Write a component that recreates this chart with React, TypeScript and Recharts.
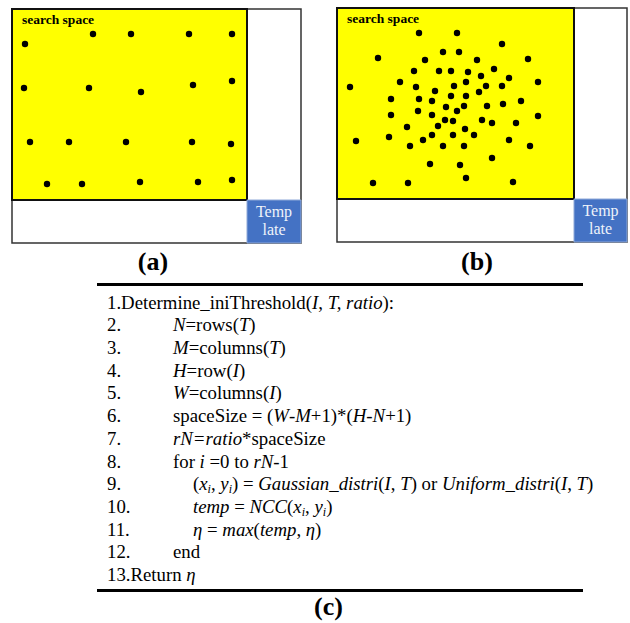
import React from "react";
import { ScatterChart, Scatter, XAxis, YAxis, ReferenceArea } from "recharts";

// dot positions inside each panel, in px from the top-left of the panel frame
const uniformPoints = [
  { x: 13, y: 35 }, { x: 81, y: 25 }, { x: 119, y: 25 }, { x: 177, y: 25 }, { x: 220, y: 25 },
  { x: 12, y: 79 }, { x: 77, y: 79 }, { x: 129, y: 83 }, { x: 181, y: 76 }, { x: 220, y: 72 },
  { x: 18, y: 133 }, { x: 57, y: 133 }, { x: 114, y: 133 }, { x: 180, y: 133 }, { x: 219, y: 135 },
  { x: 35, y: 175 }, { x: 70, y: 175 }, { x: 128, y: 173 }, { x: 186, y: 173 }, { x: 220, y: 171 },
];

const gaussianPoints = [
  { x: 82, y: 25 }, { x: 120, y: 25 }, { x: 165, y: 36 }, { x: 41, y: 50 }, { x: 106, y: 44 },
  { x: 122, y: 44 }, { x: 88, y: 52 }, { x: 140, y: 52 }, { x: 191, y: 51 }, { x: 77, y: 63 },
  { x: 102, y: 63 }, { x: 114, y: 63 }, { x: 131, y: 64 }, { x: 157, y: 61 }, { x: 13, y: 79 },
  { x: 63, y: 74 }, { x: 79, y: 79 }, { x: 98, y: 83 }, { x: 117, y: 78 }, { x: 129, y: 74 },
  { x: 144, y: 68 }, { x: 149, y: 78 }, { x: 165, y: 78 }, { x: 172, y: 70 }, { x: 201, y: 74 },
  { x: 54, y: 91 }, { x: 82, y: 91 }, { x: 95, y: 93 }, { x: 114, y: 88 }, { x: 129, y: 88 },
  { x: 142, y: 84 }, { x: 184, y: 93 }, { x: 109, y: 99 }, { x: 120, y: 103 }, { x: 127, y: 98 },
  { x: 150, y: 98 }, { x: 166, y: 96 }, { x: 54, y: 107 }, { x: 81, y: 103 }, { x: 95, y: 107 },
  { x: 201, y: 108 }, { x: 70, y: 119 }, { x: 101, y: 118 }, { x: 108, y: 112 }, { x: 116, y: 113 },
  { x: 145, y: 112 }, { x: 155, y: 115 }, { x: 179, y: 115 }, { x: 19, y: 133 }, { x: 52, y: 129 },
  { x: 73, y: 138 }, { x: 86, y: 132 }, { x: 95, y: 127 }, { x: 106, y: 138 }, { x: 116, y: 127 },
  { x: 128, y: 121 }, { x: 127, y: 138 }, { x: 137, y: 127 }, { x: 172, y: 132 }, { x: 193, y: 138 },
  { x: 93, y: 156 }, { x: 123, y: 157 }, { x: 155, y: 150 }, { x: 36, y: 175 }, { x: 71, y: 175 },
  { x: 129, y: 170 }, { x: 176, y: 174 },
];

const panelLabels = ["(a)", "(b)", "(c)"];

// |...| = italic, ~...~ = italic subscript
const algoNumbers = ["1.", "2.", "3.", "4.", "5.", "6.", "7.", "8.", "9.", "10.", "11.", "12.", "13."];
const algoIndent = [0, 1, 1, 1, 1, 1, 1, 1, 2, 2, 2, 1, 0];
const algoText = [
  "Determine_iniThreshold(|I|, |T, ratio|):",
  "|N|=rows(|T|)",
  "|M|=columns(|T|)",
  "|H|=row(|I|)",
  "|W|=columns(|I|)",
  "spaceSize = (|W|-|M|+1)*(|H|-|N|+1)",
  "|rN=ratio|*spaceSize",
  "for |i| =0 to |rN|-1",
  "(|x|~i~, |y|~i~) = |Gaussian_distri|(|I|, |T|) or |Uniform_distri|(|I|, |T|)",
  "|temp| = |NCC|(|x|~i~, |y|~i~)",
  "|η| = |max|(|temp|, |η|)",
  "end",
  "Return |η|",
];

const SERIF = '"Liberation Serif", "Times New Roman", serif';
const PAD = 3;

const Dot = (props: any) => {
  if (props.cx == null || props.cy == null) return null;
  return <circle cx={props.cx} cy={props.cy} r={3.2} fill="#000" />;
};

function SearchPanel({ left, top, w, h, sw, sh, points }: any) {
  return (
    <div style={{ position: "absolute", left: left - PAD, top: top - PAD }}>
      <ScatterChart
        width={w + PAD * 2}
        height={h + PAD * 2}
        margin={{ top: PAD, right: PAD, bottom: PAD, left: PAD }}
      >
        <XAxis type="number" dataKey="x" domain={[0, w]} hide allowDataOverflow />
        <YAxis type="number" dataKey="y" domain={[0, h]} reversed hide allowDataOverflow />
        <ReferenceArea x1={0} x2={w} y1={0} y2={h} fill="#fff" fillOpacity={1} stroke="#333" strokeWidth={1.5} />
        <ReferenceArea
          x1={0}
          x2={sw}
          y1={0}
          y2={sh}
          fill="#ffff00"
          fillOpacity={1}
          stroke="#111"
          strokeWidth={2}
          label={(p: any) => (
            <text x={p.viewBox.x + 10} y={p.viewBox.y + 15} fontFamily={SERIF} fontWeight="bold" fontSize={13.5} fill="#000">
              search space
            </text>
          )}
        />
        <ReferenceArea
          x1={sw}
          x2={w}
          y1={sh}
          y2={h}
          fill="#4472c4"
          fillOpacity={1}
          stroke="#8fa9d8"
          strokeWidth={1}
          label={(p: any) => {
            const cx = p.viewBox.x + p.viewBox.width / 2;
            const y0 = p.viewBox.y;
            return (
              <g fontFamily={SERIF} fontSize={16} fill="#eef2fa" textAnchor="middle">
                <text x={cx} y={y0 + 17}>Temp</text>
                <text x={cx} y={y0 + 35}>late</text>
              </g>
            );
          }}
        />
        <Scatter data={points} shape={Dot} isAnimationActive={false} />
      </ScatterChart>
    </div>
  );
}

function renderLine(src: string) {
  const parts = src.split(/(\|[^|]*\||~[^~]*~)/).filter((s) => s !== "");
  return parts.map((s, i) => {
    if (s.startsWith("|")) return <i key={i}>{s.slice(1, -1)}</i>;
    if (s.startsWith("~"))
      return (
        <sub key={i} style={{ fontStyle: "italic", fontSize: 12, verticalAlign: "-3px", lineHeight: 0 }}>
          {s.slice(1, -1)}
        </sub>
      );
    return <span key={i}>{s}</span>;
  });
}

const LINE_H = 22.7;

export default function App() {
  const caption = (text: string, cx: number, cy: number) => (
    <div
      style={{
        position: "absolute",
        left: cx - 40,
        top: cy - 15,
        width: 80,
        height: 30,
        lineHeight: "30px",
        textAlign: "center",
        fontFamily: SERIF,
        fontWeight: "bold",
        fontSize: 26,
      }}
    >
      {text}
    </div>
  );

  return (
    <div style={{ position: "absolute", left: 0, top: 0, width: 630, height: 623, background: "#fff", fontFamily: SERIF }}>
      <SearchPanel left={12} top={9} w={289} h={234} sw={235} sh={191} points={uniformPoints} />
      <SearchPanel left={337} top={8} w={290} h={234} sw={237} sh={191} points={gaussianPoints} />
      {caption(panelLabels[0], 153, 262)}
      {caption(panelLabels[1], 477, 262)}

      <div style={{ position: "absolute", left: 97, top: 283, width: 486, height: 2.5, background: "#000" }} />
      {algoText.map((t, i) => {
        const top = 303 - LINE_H / 2 + i * LINE_H;
        const inline = algoIndent[i] === 0;
        return (
          <div
            key={i}
            style={{ position: "absolute", top, left: 107, height: LINE_H, lineHeight: `${LINE_H}px`, fontSize: 18.8, whiteSpace: "nowrap" }}
          >
            {inline ? (
              <span>
                {algoNumbers[i]}
                {renderLine(t)}
              </span>
            ) : (
              <>
                <span>{algoNumbers[i]}</span>
                <span style={{ position: "absolute", left: algoIndent[i] === 1 ? 66 : 86, top: 0 }}>{renderLine(t)}</span>
              </>
            )}
          </div>
        );
      })}
      <div style={{ position: "absolute", left: 97, top: 588.5, width: 486, height: 3, background: "#000" }} />
      {caption(panelLabels[2], 328.5, 607)}
    </div>
  );
}
